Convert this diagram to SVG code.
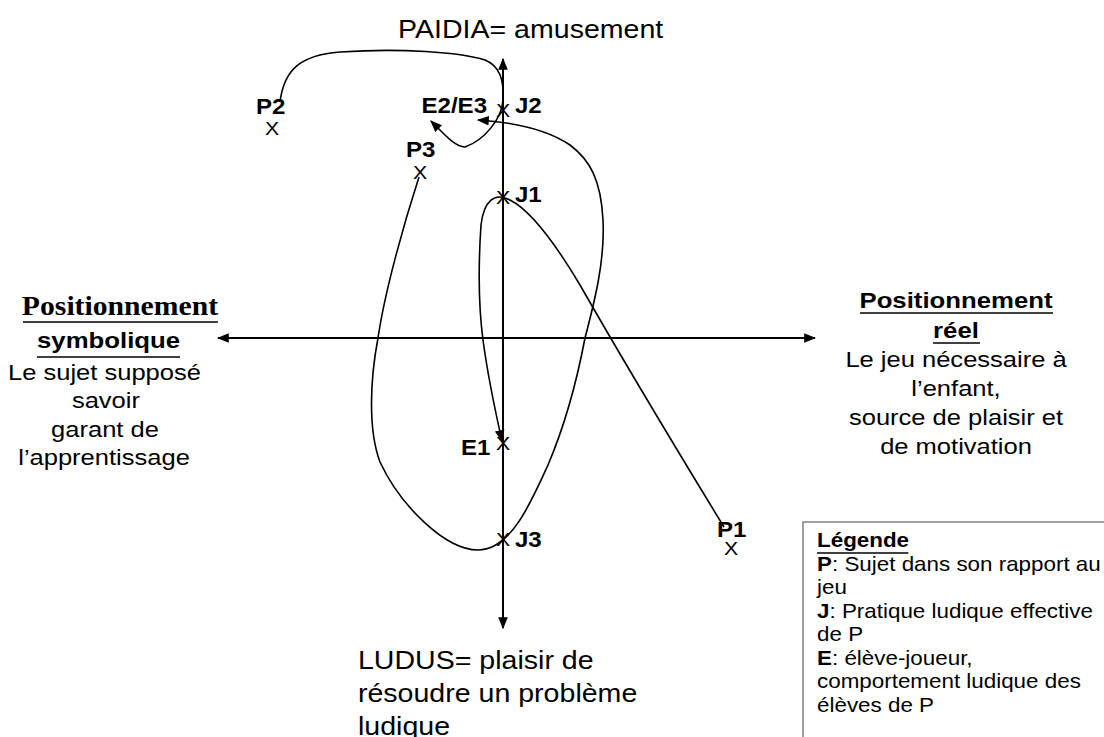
<svg xmlns="http://www.w3.org/2000/svg" width="1104" height="737" viewBox="0 0 1104 737">
<style>
.t{font-family:"Liberation Sans",Arial,sans-serif;fill:#000}
.big{font-size:25.5px}
.side{font-size:22.8px;text-anchor:middle}
.sideb{font-size:23px;font-weight:bold;text-anchor:middle}
.tb{font-family:"Liberation Serif","Times New Roman",serif;font-size:26.5px;font-weight:bold;text-anchor:middle}
.lg{font-size:20px}
.lgb{font-size:20px;font-weight:bold}
.lab{font-size:21.5px;font-weight:bold}
.x{font-size:19px;text-anchor:middle}
.ul{stroke:#000;stroke-width:1.5}
.ax{stroke:#000;stroke-width:2;fill:none}
.cv{stroke:#000;stroke-width:1.6;fill:none}
</style>
<defs>
<marker id="arr" viewBox="0 0 10 10" refX="9" refY="5" markerWidth="12" markerHeight="12" markerUnits="userSpaceOnUse" orient="auto-start-reverse">
<path d="M0,1 L10,5 L0,9 z" fill="#000"/>
</marker>
</defs>
<rect width="1104" height="737" fill="#fff"/>

<g id="connectors">
<line class="ax" x1="503" y1="59" x2="503" y2="628" marker-start="url(#arr)" marker-end="url(#arr)"/>
<line class="ax" x1="218" y1="338" x2="815" y2="338" marker-start="url(#arr)" marker-end="url(#arr)"/>
<path class="cv" d="M280,102 C284,70 300,55 340,52 C400,48 460,52 485,60 C500,66 504,80 503,100 C502,118 485,140 465,147 C455,147 445,135 431,121" marker-end="url(#arr)"/>
<path class="cv" d="M724,527 C680,455 620,355 580,285 C555,243 530,210 510,200 C495,192 484,200 481,225 C478,270 479,310 483,340 C487,370 495,410 502,441" marker-end="url(#arr)"/>
<path class="cv" d="M419,177 C405,220 385,290 378,338 C370,380 368,430 380,462 C400,505 445,550 478,550 C510,550 530,505 548,465 C565,425 578,375 585,338 C595,300 605,260 603,220 C601,180 590,160 570,145 C545,128 510,122 478,120" marker-end="url(#arr)"/>
</g>

<g id="paidia" transform="scale(1.12 1)">
<text class="t big" x="355.4" y="38">PAIDIA= amusement</text>
</g>
<g id="ludus" transform="scale(1.12 1)">
<text class="t big" x="319.6" y="669">LUDUS= plaisir de</text>
<text class="t big" x="319.6" y="702">résoudre un problème</text>
<text class="t big" x="319.6" y="735">ludique</text>
</g>
<g id="symbolique" transform="scale(1.12 1)">
<text class="tb" x="107.1" y="315">Positionnement</text>
<line class="ul" x1="20.5" y1="322" x2="194.6" y2="322"/>
<text class="t sideb" x="96.9" y="348">symbolique</text>
<line class="ul" x1="33" y1="357" x2="160.7" y2="357"/>
<text class="t side" x="93.3" y="380">Le sujet supposé</text>
<text class="t side" x="94.6" y="408">savoir</text>
<text class="t side" x="93.75" y="437">garant de</text>
<text class="t side" x="92.9" y="465">l’apprentissage</text>
</g>
<g id="reel" transform="scale(1.12 1)">
<text class="t sideb" x="853.6" y="308">Positionnement</text>
<line class="ul" x1="767.9" y1="313" x2="940.2" y2="313"/>
<text class="t sideb" x="853.6" y="338">réel</text>
<line class="ul" x1="833" y1="343" x2="875" y2="343"/>
<text class="t side" x="853.6" y="367">Le jeu nécessaire à</text>
<text class="t side" x="853.6" y="396">l’enfant,</text>
<text class="t side" x="853.6" y="425">source de plaisir et</text>
<text class="t side" x="853.6" y="454">de motivation</text>
</g>

<g id="legend">
<rect x="803" y="522" width="320" height="240" fill="#fff" stroke="#808080" stroke-width="1.5"/>
<g transform="scale(1.12 1)">
<text class="t lgb" x="729.5" y="547">Légende</text>
<line class="ul" x1="729.5" y1="553" x2="811" y2="553"/>
<text class="t lg" x="729.5" y="571"><tspan font-weight="bold">P</tspan>: Sujet dans son rapport au</text>
<text class="t lg" x="729.5" y="594">jeu</text>
<text class="t lg" x="729.5" y="618"><tspan font-weight="bold">J</tspan>: Pratique ludique effective</text>
<text class="t lg" x="729.5" y="641">de P</text>
<text class="t lg" x="729.5" y="665"><tspan font-weight="bold">E</tspan>: élève-joueur,</text>
<text class="t lg" x="729.5" y="688">comportement ludique des</text>
<text class="t lg" x="729.5" y="712">élèves de P</text>
</g>
</g>

<g id="P2" transform="scale(1.12 1)">
<text class="t lab" x="228.6" y="114">P2</text>
<text class="t x" x="242.9" y="135">X</text>
</g>
<g id="E2E3" transform="scale(1.12 1)">
<text class="t lab" x="376.3" y="113">E2/E3</text>
</g>
<g id="J2" transform="scale(1.12 1)">
<text class="t x" x="449.1" y="117">X</text>
<text class="t lab" x="459.8" y="113">J2</text>
</g>
<g id="P3" transform="scale(1.12 1)">
<text class="t lab" x="362.5" y="157">P3</text>
<text class="t x" x="375" y="179">X</text>
</g>
<g id="J1" transform="scale(1.12 1)">
<text class="t x" x="449.1" y="204">X</text>
<text class="t lab" x="459.8" y="202">J1</text>
</g>
<g id="E1" transform="scale(1.12 1)">
<text class="t lab" x="411.6" y="455">E1</text>
<text class="t x" x="449.1" y="450">X</text>
</g>
<g id="J3" transform="scale(1.12 1)">
<text class="t x" x="449.1" y="546">X</text>
<text class="t lab" x="459.8" y="547">J3</text>
</g>
<g id="P1" transform="scale(1.12 1)">
<text class="t lab" x="640.2" y="537">P1</text>
<text class="t x" x="652.7" y="555">X</text>
</g>
</svg>
